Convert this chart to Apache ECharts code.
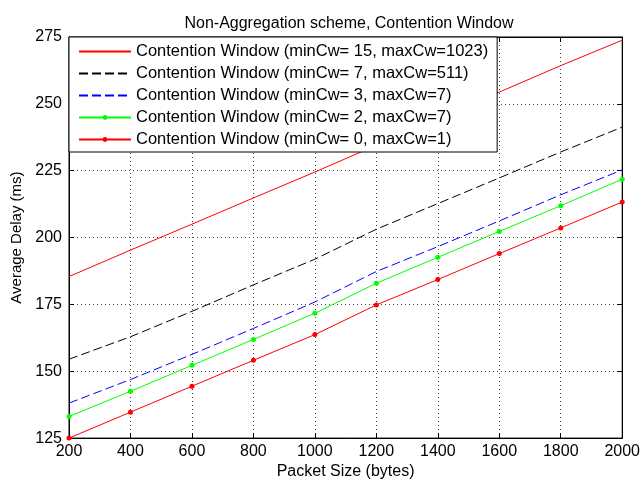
<!DOCTYPE html>
<html>
<head>
<meta charset="utf-8">
<script src="https://cdn.jsdelivr.net/npm/echarts@6/dist/echarts.min.js"></script>
<style>html,body{margin:0;padding:0;background:#fff}#c{width:643px;height:485px}</style>
</head>
<body>
<div id="c"></div>
<script>
var packetSizes = [200, 400, 600, 800, 1000, 1200, 1400, 1600, 1800, 2000];
var cw15 = [185.4, 195.3, 205.0, 214.8, 224.5, 234.5, 244.5, 254.4, 264.3, 273.8];
var cw7  = [154.5, 162.9, 172.4, 182.3, 191.9, 203.1, 212.7, 222.3, 232.0, 241.3];
var cw3  = [138.1, 146.9, 156.3, 166.0, 175.9, 187.3, 196.6, 206.2, 216.0, 225.3];
var cw2  = [133.1, 142.5, 152.2, 161.9, 171.7, 182.9, 192.6, 202.3, 211.9, 221.8];
var cw0  = [125.0, 134.7, 144.4, 154.1, 163.7, 174.8, 184.3, 194.0, 203.6, 213.3];
var seriesNames = [
  'Contention Window (minCw= 15, maxCw=1023)',
  'Contention Window (minCw= 7, maxCw=511)',
  'Contention Window (minCw= 3, maxCw=7)',
  'Contention Window (minCw= 2, maxCw=7)',
  'Contention Window (minCw= 0, maxCw=1)'
];
var hasMarker = [false, false, false, true, true];
var titleText = 'Non-Aggregation scheme, Contention Window';
var xName = 'Packet Size (bytes)';
var yName = 'Average Delay (ms)';

function pairs(ys){ return packetSizes.map(function(x,i){ return [x, ys[i]]; }); }
var font = 'Liberation Sans, Arial, sans-serif';
var chart = echarts.init(document.getElementById('c'));
var gridStyle = {show:true, lineStyle:{color:'#444', type:[1,3], width:1}};
function mk(name, data, color, dash, sym){
  return {
    name:name, type:'line', data:pairs(data), xAxisIndex:0, yAxisIndex:0,
    symbol: sym ? 'circle' : 'none', symbolSize: sym ? 5 : 0, showSymbol: !!sym,
    lineStyle:{color:color, width:1, type: dash ? [9,4] : 'solid'},
    itemStyle:{color:color}, animation:false
  };
}
var legendData = seriesNames.map(function(n, i){
  return hasMarker[i] ? {name:n} : {name:n, itemStyle:{opacity:0}};
});
chart.setOption({
  animation:false,
  textStyle:{fontFamily:font},
  title:{text:titleText, left:344, textAlign:'center', top:11, textStyle:{fontSize:16, fontWeight:'normal', color:'#000', fontFamily:font}},
  grid:{left:69, right:16, top:37, bottom:44, show:true, borderColor:'#000', borderWidth:1},
  legend:{
    orient:'vertical', left:69, top:37, data:legendData,
    backgroundColor:'#fff', borderColor:'#000', borderWidth:1, borderRadius:0,
    padding:[6,9,4,9], itemGap:5, itemWidth:52, itemHeight:6,
    textStyle:{fontSize:16.5, color:'#000', fontFamily:font}
  },
  xAxis:[
    {type:'value', min:200, max:2000, interval:200, position:'bottom',
     name:xName, nameLocation:'middle', nameGap:24, nameTextStyle:{fontSize:16, color:'#000'},
     axisLine:{show:true, onZero:false, lineStyle:{color:'#000'}},
     axisTick:{inside:true, length:5, lineStyle:{color:'#000'}},
     axisLabel:{fontSize:16, color:'#000', margin:5, formatter:function(v){return String(v);}},
     splitLine:gridStyle},
    {type:'value', min:200, max:2000, interval:200, position:'top',
     axisLine:{show:true, onZero:false, lineStyle:{color:'#000'}},
     axisTick:{inside:true, length:5, lineStyle:{color:'#000'}},
     axisLabel:{show:false}, splitLine:{show:false}}
  ],
  yAxis:[
    {type:'value', min:125, max:275, interval:25, position:'left',
     name:yName, nameLocation:'middle', nameGap:44, nameRotate:90, nameTextStyle:{fontSize:15, color:'#000'},
     axisLine:{show:true, onZero:false, lineStyle:{color:'#000'}},
     axisTick:{inside:true, length:5, lineStyle:{color:'#000'}},
     axisLabel:{fontSize:16, color:'#000', margin:7},
     splitLine:gridStyle},
    {type:'value', min:125, max:275, interval:25, position:'right',
     axisLine:{show:true, onZero:false, lineStyle:{color:'#000'}},
     axisTick:{inside:true, length:5, lineStyle:{color:'#000'}},
     axisLabel:{show:false}, splitLine:{show:false}}
  ],
  series:[
    mk(seriesNames[0], cw15, '#ff0000', false, hasMarker[0]),
    mk(seriesNames[1], cw7, '#000000', true, hasMarker[1]),
    mk(seriesNames[2], cw3, '#0000ff', true, hasMarker[2]),
    mk(seriesNames[3], cw2, '#00ff00', false, hasMarker[3]),
    mk(seriesNames[4], cw0, '#ff0000', false, hasMarker[4])
  ]
});
</script>
</body>
</html>
